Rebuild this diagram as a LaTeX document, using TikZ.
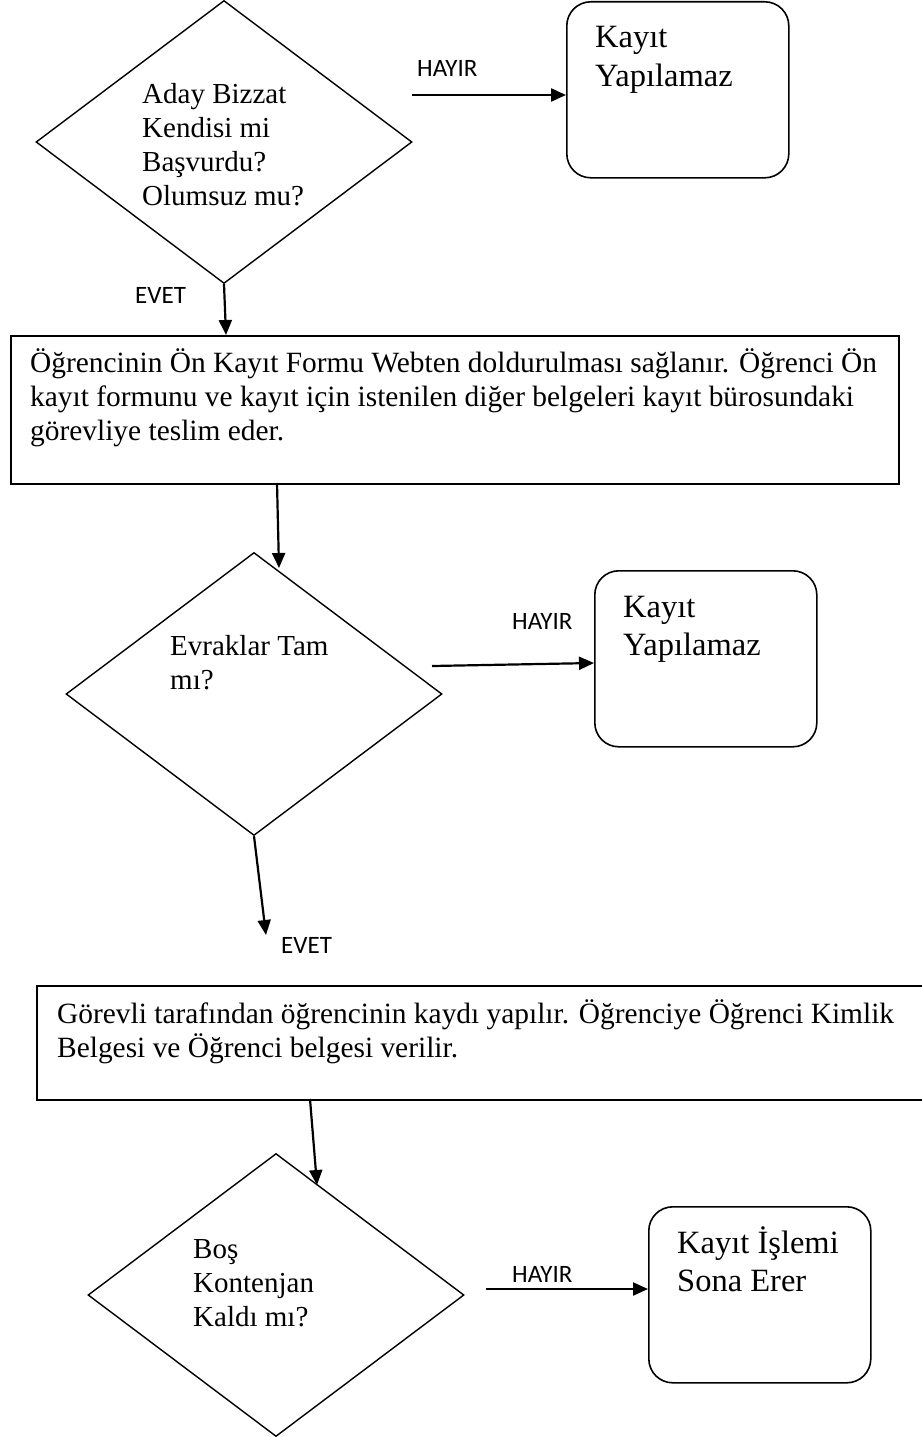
\documentclass[tikz,border=0pt]{standalone}
\usepackage{fontspec}
\setmainfont{Liberation Serif}
\newfontfamily\lblfont{Carlito}
\usetikzlibrary{shapes.geometric,arrows.meta}
\begin{document}
\begin{tikzpicture}[x=1pt,y=-1pt,
  dia/.style={diamond, draw, line width=1.4pt, minimum width=376pt, minimum height=283pt, inner sep=0pt},
  rbox/.style={draw, rounded corners=24pt, line width=1.6pt, minimum width=222pt, minimum height=176pt, anchor=north west, inner sep=0pt},
  pbox/.style={draw, line width=2pt, anchor=north west, inner sep=0pt},
  arr/.style={line width=2.2pt, -{Triangle[length=15pt,width=13pt]}},
  txt/.style={anchor=base west, inner sep=0pt, font=\fontsize{29}{34}\selectfont},
  ptxt/.style={anchor=base west, inner sep=0pt, font=\fontsize{29.4}{34}\selectfont},
  btxt/.style={anchor=base west, inner sep=0pt, font=\fontsize{32.5}{38}\selectfont},
  lbl/.style={anchor=base west, inner sep=0pt, font=\lblfont\fontsize{25}{30}\selectfont}]
\useasboundingbox (0,0) rectangle (921,1437);

% shapes
\node[dia] (d1) at (224,142) {};
\node[dia] (d2) at (254,694) {};
\node[dia] (d3) at (276,1295) {};
\node[rbox] (b1) at (566,1) {};
\node[rbox] (b2) at (594,570) {};
\node[rbox] (b3) at (648,1206) {};
\node[pbox, minimum width=888pt, minimum height=148pt] (r1) at (10,335) {};
\node[pbox, minimum width=892pt, minimum height=114pt] (r2) at (36,985) {};

% texts
\node[txt] (d1a) at (142,103) {Aday Bizzat};
\node[txt] (d1b) at (142,137) {Kendisi mi};
\node[txt] (d1c) at (142,171) {Başvurdu?};
\node[txt] (d1d) at (142,205) {Olumsuz mu?};
\node[btxt] (b1a) at (595,48) {Kayıt};
\node[btxt] (b1b) at (595,86) {Yapılamaz};
\node[ptxt] (r1a) at (30,372) {Öğrencinin Ön Kayıt Formu Webten doldurulması sağlanır. Öğrenci Ön};
\node[ptxt] (r1b) at (30,406) {kayıt formunu ve kayıt için istenilen diğer belgeleri kayıt bürosundaki};
\node[ptxt] (r1c) at (30,440) {görevliye teslim eder.};
\node[txt] (d2a) at (170,655) {Evraklar Tam};
\node[txt] (d2b) at (170,689) {mı?};
\node[btxt] (b2a) at (623,617) {Kayıt};
\node[btxt] (b2b) at (623,655) {Yapılamaz};
\node[ptxt] (r2a) at (57,1023) {Görevli tarafından öğrencinin kaydı yapılır. Öğrenciye Öğrenci Kimlik};
\node[ptxt] (r2b) at (57,1057) {Belgesi ve Öğrenci belgesi verilir.};
\node[txt] (d3a) at (193,1258) {Boş};
\node[txt] (d3b) at (193,1292) {Kontenjan};
\node[txt] (d3c) at (193,1326) {Kaldı mı?};
\node[btxt] (b3a) at (677,1253) {Kayıt İşlemi};
\node[btxt] (b3b) at (677,1291) {Sona Erer};

% labels
\node[lbl] (l1) at (417,76) {HAYIR};
\node[lbl] (l2) at (135,303) {EVET};
\node[lbl] (l3) at (512,629) {HAYIR};
\node[lbl] (l4) at (281,953) {EVET};
\node[lbl] (l5) at (512,1282) {HAYIR};

% connectors
\coordinate (h1) at (412,95);
\draw[arr] (h1) -- (b1.west |- h1);
\coordinate (e1) at (226,335);
\draw[arr] (d1.south) -- (e1);
\coordinate (a2s) at (277,483);
\coordinate (a2e) at (279,568);
\draw[arr] (a2s) -- (a2e);
\coordinate (h2) at (432,666);
\coordinate (h2e) at (594,663);
\draw[arr] (h2) -- (h2e);
\coordinate (e2) at (266,935);
\draw[arr] (d2.south) -- (e2);
\coordinate (a3s) at (310,1099);
\coordinate (a3e) at (317,1185);
\draw[arr] (a3s) -- (a3e);
\coordinate (h3) at (486,1289);
\draw[arr] (h3) -- (b3.west |- h3);
\end{tikzpicture}
\end{document}
